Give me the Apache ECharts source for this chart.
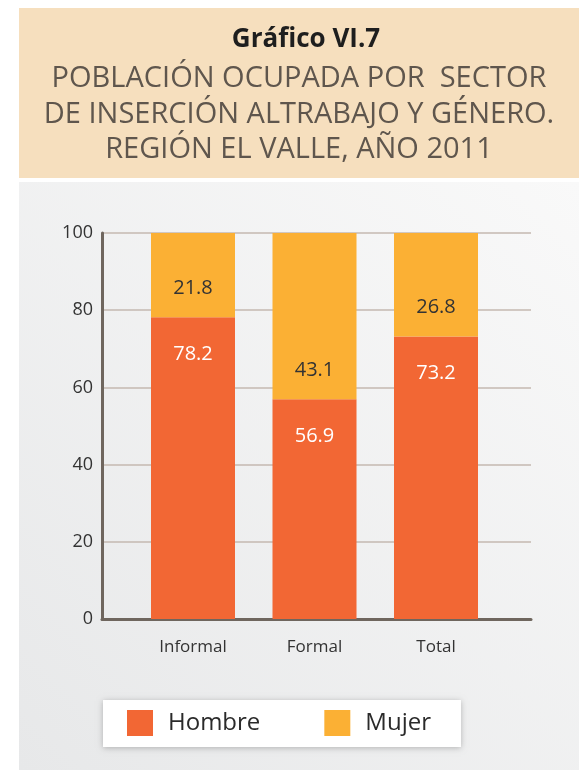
<!DOCTYPE html>
<html>
<head>
<meta charset="utf-8">
<script src="https://cdn.jsdelivr.net/npm/echarts@6/dist/echarts.min.js"></script>
<style>
html,body{margin:0;padding:0;background:#ffffff;}
#chart{width:579px;height:770px;}
</style>
</head>
<body>
<div id="chart"></div>
<script>
var categories = ['Informal', 'Formal', 'Total'];
var hombre = [78.2, 56.9, 73.2];
var mujer = [21.8, 43.1, 26.8];
var yTicks = [0, 20, 40, 60, 80, 100];
var titleBold = 'Gráfico VI.7';
var titleLines = ['POBLACIÓN OCUPADA POR  SECTOR', 'DE INSERCIÓN ALTRABAJO Y GÉNERO.', 'REGIÓN EL VALLE, AÑO 2011'];

var FONT = '"Open Sans", "Noto Sans", sans-serif';
var chart = echarts.init(document.getElementById('chart'), null, {renderer: 'canvas'});

var graphics = [
  {type: 'rect', z: -10, shape: {x: 19, y: 8, width: 560, height: 170}, style: {fill: '#f6dfbe'}},
  {type: 'rect', z: -10, shape: {x: 19, y: 182, width: 560, height: 588},
    style: {fill: new echarts.graphic.LinearGradient(1, 0, 0, 1, [
      {offset: 0, color: '#f9f9f9'}, {offset: 1, color: '#e7e8e9'}])}},
  {type: 'text', z: 10, style: {text: titleBold, x: 306, y: 40, align: 'center', verticalAlign: 'middle',
    font: 'bold 26px ' + FONT, fill: '#1e1e1e'}}
];
titleLines.forEach(function (t, i) {
  graphics.push({type: 'text', z: 10, style: {text: t, x: 299, y: 79 + i * 35.5, align: 'center', verticalAlign: 'middle',
    font: '29px ' + FONT, fill: '#5f564d'}});
});

var option = {
  animation: false,
  textStyle: {fontFamily: FONT},
  graphic: graphics,
  grid: [
    {left: 132.25, width: 364.5, top: 233, height: 386},
    {left: 102, width: 429, top: 233, height: 386}
  ],
  xAxis: [
    {type: 'category', gridIndex: 0, data: categories,
      axisLine: {show: false}, axisTick: {show: false},
      axisLabel: {fontSize: 17, color: '#333333', margin: 20, fontFamily: FONT}},
    {type: 'value', gridIndex: 1, min: 0, max: 1, splitLine: {show: false},
      axisLabel: {show: false}, axisTick: {show: false},
      axisLine: {show: true, lineStyle: {color: '#6f665e', width: 3}}}
  ],
  yAxis: [
    {type: 'value', gridIndex: 0, min: 0, max: 100, interval: 20, show: false},
    {type: 'value', gridIndex: 1, min: 0, max: 100, interval: 20,
      axisLine: {show: true, lineStyle: {color: '#6f665e', width: 3}},
      axisTick: {show: false},
      splitLine: {show: true, lineStyle: {color: '#c4b8b1', width: 1.5}},
      axisLabel: {fontSize: 18, color: '#333333', margin: 9, fontFamily: FONT,
        formatter: function (v) { return yTicks.indexOf(v) >= 0 ? String(v) : ''; }}}
  ],
  legend: {
    left: 103, top: 700,
    data: ['Hombre', 'Mujer'],
    icon: 'rect', itemWidth: 26, itemHeight: 26, itemGap: 64,
    padding: [10, 30, 11, 24],
    backgroundColor: '#ffffff',
    shadowBlur: 6, shadowColor: 'rgba(0,0,0,0.25)', shadowOffsetX: 0, shadowOffsetY: 1,
    textStyle: {fontSize: 24, color: '#2a2a2a', fontFamily: FONT, padding: [0, 0, 0, 10]}
  },
  series: [
    {name: 'Hombre', type: 'bar', stack: 's', xAxisIndex: 0, yAxisIndex: 0, barWidth: 84,
      data: hombre, itemStyle: {color: '#f26734'},
      label: {show: true, position: 'insideTop', distance: 27, color: '#ffffff', fontSize: 20, fontFamily: FONT}},
    {name: 'Mujer', type: 'bar', stack: 's', xAxisIndex: 0, yAxisIndex: 0, barWidth: 84,
      data: mujer, itemStyle: {color: '#fbb034'},
      label: {show: true, position: 'insideBottom', distance: 19, color: '#333333', fontSize: 20, fontFamily: FONT}}
  ]
};
chart.setOption(option);
</script>
</body>
</html>
